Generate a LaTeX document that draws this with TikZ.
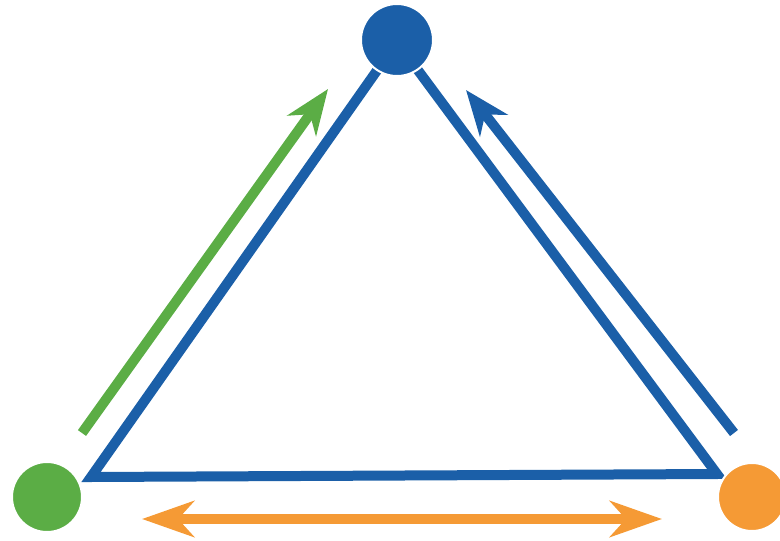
\documentclass[tikz,border=0pt]{standalone}
\usetikzlibrary{arrows.meta}
\definecolor{tblue}{HTML}{1B5FA8}
\definecolor{tgreen}{HTML}{5BAD45}
\definecolor{torange}{HTML}{F59A35}
\begin{document}
\begin{tikzpicture}[x=1pt,y=-1pt,
  edge/.style={draw=tblue,line width=10pt,line join=miter},
  dot/.style={circle,minimum size=70pt,inner sep=0pt,draw=white,line width=2pt},
  flow/.style={line width=10pt},
  tip/.style={-{Stealth[length=45pt,width=35pt,inset=14pt]}},
  tiptwo/.style={{Stealth[length=52pt,width=36pt,inset=16pt]}-{Stealth[length=52pt,width=36pt,inset=16pt]}}]
\useasboundingbox (0,0) rectangle (780,541);
% triangle vertices
\coordinate (vl) at (91,477);
\coordinate (vt) at (397,42);
\coordinate (vr) at (717,474);
\draw[edge] (vl) -- (vt) -- (vr) -- cycle;
% arrow endpoints
\coordinate (ga) at (82,433);
\coordinate (gb) at (328,89);
\coordinate (ba) at (734,433);
\coordinate (bb) at (466,90);
\coordinate (oa) at (142,519);
\coordinate (ob) at (662,519);
\draw[flow,tip,draw=tgreen,fill=tgreen] (ga) -- (gb);
\draw[flow,tip,draw=tblue,fill=tblue] (ba) -- (bb);
\draw[flow,tiptwo,draw=torange,fill=torange] (oa) -- (ob);
% circles
\node[dot,fill=tblue,minimum size=72pt] (top) at (397,40) {};
\node[dot,fill=tgreen] (left) at (47,497) {};
\node[dot,fill=torange,minimum size=68pt] (right) at (752,497) {};
\end{tikzpicture}
\end{document}
